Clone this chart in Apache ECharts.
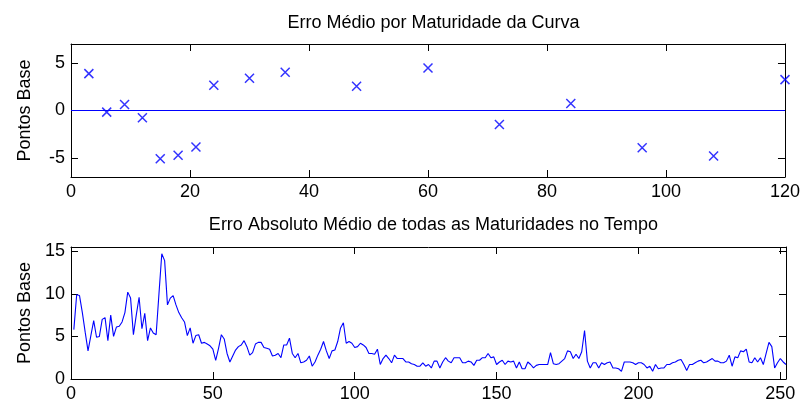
<!DOCTYPE html>
<html>
<head>
<meta charset="utf-8">
<script src="https://cdn.jsdelivr.net/npm/echarts@6/dist/echarts.min.js"></script>
<style>
  html, body { margin: 0; padding: 0; background: #fff; }
  #chart { width: 803px; height: 403px; }
</style>
</head>
<body>
<div id="chart"></div>
<script>
// Mean error per curve maturity (months) in basis points
const maturities = [3, 6, 9, 12, 15, 18, 21, 24, 30, 36, 48, 60, 72, 84, 96, 108, 120];
const meanError = [3.88, -0.17, 0.63, -0.77, -5.07, -4.72, -3.85, 2.66, 3.39, 4.02, 2.55, 4.48, -1.47, 0.73, -3.92, -4.79, 3.25];
const zeroLineX = [0, 120];

// Mean absolute error across all maturities, one value per day (1..252)
const absError = [
  5.8, 9.9, 9.8, 7.8, 5.5, 3.3, 5.1, 6.85, 4.9, 5.0,
  7.0, 7.2, 4.5, 7.5, 5.0, 6.1, 6.2, 6.7, 7.8, 10.2,
  9.5, 5.2, 7.5, 9.6, 5.9, 7.7, 4.5, 6.0, 5.4, 5.2,
  10.0, 14.7, 13.9, 8.7, 9.5, 9.8, 8.7, 7.8, 7.2, 6.7,
  5.1, 6.0, 4.2, 5.1, 5.2, 4.2, 4.3, 4.1, 3.9, 3.5,
  2.2, 3.6, 5.2, 4.7, 3.0, 2.0, 2.7, 3.4, 3.8, 4.0,
  4.5, 3.8, 2.8, 3.1, 4.1, 4.3, 4.3, 3.7, 3.6, 3.5,
  2.7, 2.8, 3.0, 2.5, 4.0, 4.0, 4.8, 3.0, 2.5, 3.0,
  1.9, 2.0, 2.2, 2.7, 1.5, 2.0, 2.8, 3.5, 4.4, 3.3,
  2.4, 3.3, 3.4, 4.4, 6.0, 6.6, 4.2, 4.4, 4.2, 3.7,
  3.8, 4.2, 4.0, 3.7, 3.0, 3.0, 2.9, 3.5, 1.7, 2.4,
  2.8, 2.4, 1.9, 2.8, 2.4, 2.4, 2.4, 2.0, 2.0, 1.8,
  1.7, 1.5, 1.5, 1.9, 1.5, 1.7, 1.3, 2.1, 2.1, 1.3,
  2.0, 2.5, 2.1, 1.9, 2.5, 2.5, 2.5, 1.9, 1.9, 2.1,
  2.0, 1.6, 2.2, 2.2, 2.5, 2.5, 3.0, 2.5, 2.6, 1.7,
  2.0, 2.2, 1.7, 2.1, 2.0, 2.1, 1.3, 2.0, 1.2, 1.2,
  2.0, 1.7, 1.3, 1.6, 1.7, 1.7, 1.7, 1.7, 3.1, 1.8,
  1.7, 1.8, 2.1, 2.4, 3.3, 3.2, 2.4, 2.9, 2.4, 3.2,
  5.7, 2.1, 1.3, 1.9, 1.9, 1.3, 1.9, 1.7, 1.9, 2.0,
  1.3, 1.3, 1.2, 0.9, 2.0, 2.0, 2.0, 1.9, 1.7, 1.9,
  1.9, 1.7, 1.3, 1.5, 0.9, 1.7, 1.2, 1.3, 1.3, 1.7,
  1.7, 1.9, 2.0, 2.2, 2.3, 1.7, 1.0, 1.7, 1.7, 1.9,
  2.1, 2.2, 1.9, 2.0, 2.2, 2.4, 2.1, 2.1, 1.9, 1.9,
  2.1, 2.8, 1.5, 2.6, 2.5, 3.3, 3.2, 3.5, 2.0, 1.9,
  2.5, 2.0, 2.5, 1.7, 3.0, 4.3, 3.8, 1.3, 1.9, 2.4,
  2.0, 1.7
];

// Tick labels
const topXTicks = [0, 20, 40, 60, 80, 100, 120];
const topYTicks = [-5, 0, 5];
const bottomXTicks = [0, 50, 100, 150, 200, 250];
const bottomYTicks = [0, 5, 10, 15];

const FONT = "'Liberation Sans', Arial, Helvetica, sans-serif";
const FONT_SIZE = 18;
const BLUE = '#0000ff';
const BLACK = '#000000';

function xAxis(gridIndex, min, max, ticks, position, showLabels) {
  return {
    type: 'value', gridIndex, min, max, position,
    axisLine: { show: true, onZero: false, lineStyle: { color: BLACK, width: 1 } },
    axisTick: { show: true, inside: true, length: 7, customValues: ticks, lineStyle: { color: BLACK } },
    axisLabel: { show: showLabels, customValues: ticks, margin: 6, color: BLACK, fontSize: FONT_SIZE, fontFamily: FONT },
    splitLine: { show: false }
  };
}
function yAxis(gridIndex, min, max, ticks, position, showLabels, name) {
  return {
    type: 'value', gridIndex, min, max, position,
    name: name || '', nameLocation: 'middle', nameGap: 37, nameRotate: 90,
    nameTextStyle: { color: BLACK, fontSize: FONT_SIZE, fontFamily: FONT },
    axisLine: { show: true, onZero: false, lineStyle: { color: BLACK, width: 1 } },
    axisTick: { show: true, inside: true, length: 7, customValues: ticks, lineStyle: { color: BLACK } },
    axisLabel: { show: showLabels, customValues: ticks, margin: 6, color: BLACK, fontSize: FONT_SIZE, fontFamily: FONT },
    splitLine: { show: false }
  };
}

const chart = echarts.init(document.getElementById('chart'), null, { renderer: 'canvas' });
chart.setOption({
  animation: false,
  backgroundColor: '#ffffff',
  title: [
    { text: 'Erro Médio por Maturidade da Curva', left: 428.5, top: 9, textAlign: 'center',
      textStyle: { fontSize: FONT_SIZE, fontWeight: 'normal', color: BLACK, fontFamily: FONT } },
    { text: 'Erro Absoluto Médio de todas as Maturidades no Tempo', left: 428.5, top: 211, textAlign: 'center',
      textStyle: { fontSize: FONT_SIZE, fontWeight: 'normal', color: BLACK, fontFamily: FONT } }
  ],
  grid: [
    { left: 71, right: 17, top: 44, height: 133 },
    { left: 71, right: 17, top: 247, height: 132 }
  ],
  xAxis: [
    xAxis(0, 0, 120, topXTicks, 'bottom', true),
    xAxis(0, 0, 120, topXTicks, 'top', false),
    xAxis(1, 0, 252, bottomXTicks, 'bottom', true),
    xAxis(1, 0, 252, bottomXTicks, 'top', false)
  ],
  yAxis: [
    yAxis(0, -7, 7, topYTicks, 'left', true, 'Pontos Base'),
    yAxis(0, -7, 7, topYTicks, 'right', false),
    yAxis(1, 0, 15.5, bottomYTicks, 'left', true, 'Pontos Base'),
    yAxis(1, 0, 15.5, bottomYTicks, 'right', false)
  ],
  series: [
    {
      type: 'line', xAxisIndex: 0, yAxisIndex: 0,
      data: zeroLineX.map(x => [x, 0]),
      symbol: 'none', lineStyle: { color: BLUE, width: 1 }, silent: true
    },
    {
      type: 'scatter', xAxisIndex: 0, yAxisIndex: 0,
      data: maturities.map((m, i) => [m, meanError[i]]),
      symbol: 'path://M0,0L10,10M10,0L0,10', symbolSize: 9,
      itemStyle: { color: 'rgba(0,0,0,0)', borderColor: BLUE, borderWidth: 1.5 }
    },
    {
      type: 'line', xAxisIndex: 2, yAxisIndex: 2,
      data: absError.map((v, i) => [i + 1, v]),
      symbol: 'none', lineStyle: { color: BLUE, width: 1.1 }
    }
  ]
});
</script>
</body>
</html>
